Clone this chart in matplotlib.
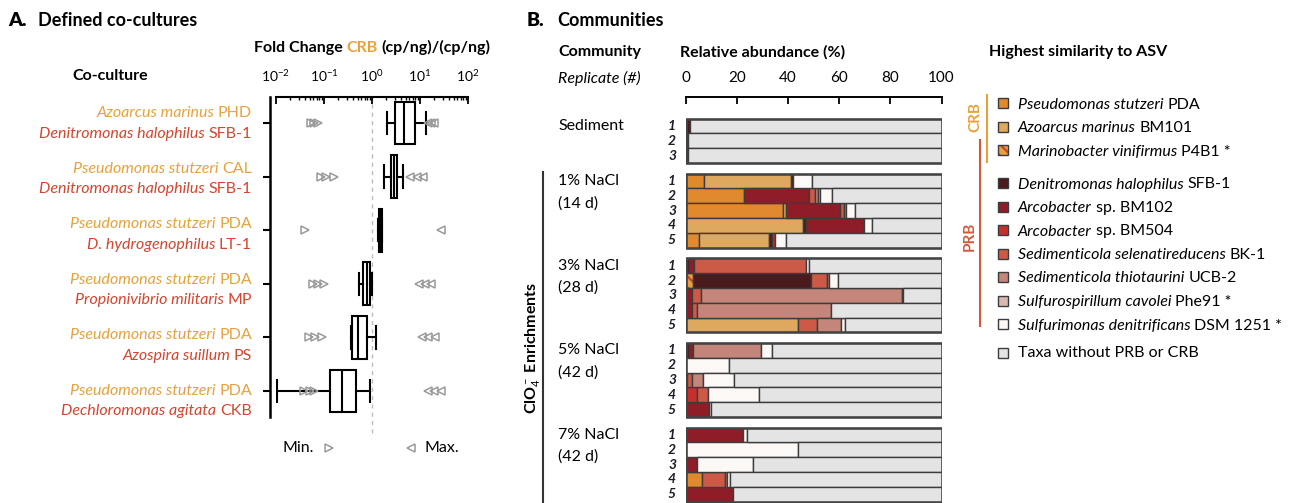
import matplotlib
matplotlib.use("Agg")
import matplotlib.pyplot as plt
import numpy as np
from matplotlib.patches import Rectangle

plt.rcParams['font.family'] = ['Lato', 'DejaVu Sans']
plt.rcParams['mathtext.fontset'] = 'custom'
plt.rcParams['mathtext.rm'] = 'Lato'
plt.rcParams['mathtext.it'] = 'Lato:italic'
plt.rcParams['mathtext.bf'] = 'Lato:bold'
plt.rcParams['hatch.linewidth'] = 1.6

# ---------------- Panel A data: fold change CRB (cp/ng)/(cp/ng)
crb_partner = [("Azoarcus marinus", "PHD"), ("Pseudomonas stutzeri", "CAL"),
               ("Pseudomonas stutzeri", "PDA"), ("Pseudomonas stutzeri", "PDA"),
               ("Pseudomonas stutzeri", "PDA"), ("Pseudomonas stutzeri", "PDA")]
prb_partner = [("Denitromonas halophilus", "SFB-1"), ("Denitromonas halophilus", "SFB-1"),
               ("D. hydrogenophilus", "LT-1"), ("Propionivibrio militaris", "MP"),
               ("Azospira suillum", "PS"), ("Dechloromonas agitata", "CKB")]
fc_whislo = [2.1, 1.8, 1.35, 0.54, 0.37, 0.0105]
fc_q1 = [3.0, 2.5, 1.38, 0.65, 0.39, 0.133]
fc_med = [4.7, 2.9, 1.5, 0.78, 0.51, 0.234]
fc_q3 = [7.9, 3.3, 1.6, 0.91, 0.78, 0.47]
fc_whishi = [13.3, 4.5, 1.65, 1.0, 1.2, 0.91]
fc_min = [[0.053, 0.063, 0.075], [0.085, 0.11, 0.16], [0.04],
          [0.058, 0.075, 0.1], [0.048, 0.065, 0.09], [0.038, 0.05, 0.062]]
fc_max = [[14.5, 17, 20], [6.3, 8.5, 11.5], [28],
          [9.5, 13, 17], [11, 15, 21], [15, 20, 27]]

# ---------------- Panel B data: relative abundance (%)
communities = [("Sediment", ""), ("1% NaCl", "(14 d)"), ("3% NaCl", "(28 d)"),
               ("5% NaCl", "(42 d)"), ("7% NaCl", "(42 d)")]
replicates = [3, 5, 5, 5, 5]

taxa = [("Pseudomonas stutzeri", "PDA"), ("Azoarcus marinus", "BM101"),
        ("Marinobacter vinifirmus", "P4B1 *"), ("Denitromonas halophilus", "SFB-1"),
        ("Arcobacter", "sp. BM102"), ("Arcobacter", "sp. BM504"),
        ("Sedimenticola selenatireducens", "BK-1"), ("Sedimenticola thiotaurini", "UCB-2"),
        ("Sulfurospirillum cavolei", "Phe91 *"), ("Sulfurimonas denitrificans", "DSM 1251 *")]
taxa_colors = ['#E0892F', '#DEA85E', '#E9A040', '#4B1A1D', '#8F1D27', '#C62F2B',
               '#CD5A46', '#C4857A', '#D9BAB3', '#FBF8F6']
other_color = '#E4E4E4'

#        sediment      1% NaCl                    3% NaCl                     5% NaCl                    7% NaCl
pda   = [0, 0, 0,    7.4, 22.8, 38.0, 0, 5.4,    0, 0, 0, 0, 0,              0, 0, 0, 0, 0,             0, 0, 0, 6.6, 0]
azo   = [0, 0, 0,    33.7, 0, 1.3, 46.0, 27.3,   0, 0, 0, 0, 44.1,           0, 0, 0, 0, 0,             0, 0, 0, 0, 0]
mari  = [0, 0, 0,    0, 0, 0, 0, 0,              0, 3.0, 0, 0, 0,            0, 0, 0, 0, 0,             0, 0, 0, 0, 0]
deni  = [1.7, 1.1, 0.8, 1.0, 0, 0, 0.9, 1.1,     1.4, 45.9, 0, 0, 0,         1.4, 0, 0.7, 0, 0,         0, 0, 0, 0, 0]
bm102 = [0, 0, 0,    0, 25.6, 21.1, 22.8, 0,     2.0, 0, 2.7, 2.7, 0,        1.4, 0, 0, 0, 9.2,         22.6, 0, 4.4, 0, 18.7]
bm504 = [0, 0, 0,    0, 0, 0, 0, 1.2,            0, 0, 0, 0, 0,              0, 0, 0, 4.4, 0,           0, 0, 0, 0, 0]
bk1   = [0, 0, 0,    0, 2.2, 1.5, 0, 0,          43.7, 6.3, 3.2, 1.7, 7.4,   0, 0, 1.7, 4.5, 0,         0, 0, 0, 8.8, 0]
ucb2  = [0, 0, 0,    0, 1.0, 0.6, 0, 0,          0, 1.0, 78.5, 52.4, 9.2,    26.6, 0, 4.3, 0, 0,        0, 0, 0, 0.9, 0]
phe91 = [0, 0, 0,    0, 1.0, 0, 0, 0,            0, 0, 0, 0, 0,              0, 0, 0, 0, 0,             0, 0, 0, 0, 0]
sulfu = [0, 0, 0,    7.2, 4.6, 3.7, 3.3, 4.1,    1.3, 3.2, 0.4, 0, 1.6,      4.3, 17.1, 12.2, 19.9, 0.8, 1.3, 44.1, 22.1, 1.0, 0]

ORANGE = '#E9A23B'
RED = '#D5452F'

W, H = 1295, 503
fig = plt.figure(figsize=(W / 100, H / 100), dpi=100)

# overlay axes in pixel units for text and decorations
ov = fig.add_axes([0, 0, 1, 1])
ov.set_xlim(0, W)
ov.set_ylim(H, 0)
ov.axis('off')


def rich(x, y, parts, ha='left', size=11.5, **common):
    # place several differently styled pieces on one baseline
    r = fig.canvas.get_renderer()
    objs = []
    for s, kw in parts:
        opts = dict(common)
        opts.update(kw)
        t = ov.text(0, y, s, fontsize=size, ha='left', va='baseline', **opts)
        objs.append((t, t.get_window_extent(r).width))
    gap = size * 0.33
    total = sum(w for _, w in objs) + gap * (len(objs) - 1)
    x0 = x - total if ha == 'right' else (x - total / 2 if ha == 'center' else x)
    for t, w in objs:
        t.set_x(x0)
        x0 += w + gap


def to_px(axes, xv, yv):
    dx, dy = axes.transData.transform((xv, yv))
    return dx, H - dy


# ---------------- Panel A
ax = fig.add_axes([276 / W, 1 - 417 / H, 192 / W, 320 / H])
ax.set_facecolor('none')
stats = [dict(whislo=fc_whislo[i], q1=fc_q1[i], med=fc_med[i], q3=fc_q3[i],
              whishi=fc_whishi[i], fliers=[]) for i in range(len(fc_med))]
ax.bxp(stats, positions=range(len(stats)), orientation='horizontal', widths=0.8,
       capwidths=0.42, patch_artist=True, showfliers=False, manage_ticks=False,
       boxprops=dict(facecolor='white', edgecolor='black', linewidth=1.5),
       whiskerprops=dict(color='black', linewidth=1.5),
       capprops=dict(color='black', linewidth=1.5),
       medianprops=dict(color='black', linewidth=1.5))
for i in range(len(fc_min)):
    ax.plot(fc_min[i], [i] * len(fc_min[i]), ls='none', marker='>', ms=6,
            mfc='none', mec='#9a9a9a', mew=1.1)
    ax.plot(fc_max[i], [i] * len(fc_max[i]), ls='none', marker='<', ms=6,
            mfc='none', mec='#9a9a9a', mew=1.1)
ax.axvline(1, ymin=-0.05, ymax=1, ls=(0, (3, 3)), color='#bdbdbd', lw=1, clip_on=False, zorder=0)
ax.set_xscale('log')
ax.set_xlim(1e-2, 1e2)
ax.set_ylim(len(stats) - 0.515, -0.485)
ax.xaxis.tick_top()
ax.tick_params(axis='x', which='major', direction='in', length=5, width=1.3,
               labelsize=10, pad=9, top=True, bottom=False)
ax.tick_params(axis='x', which='minor', direction='in', length=2.5, width=1, top=True, bottom=False)
ax.set_yticks(range(len(stats)))
ax.set_yticklabels([])
ax.tick_params(axis='y', direction='out', length=5, width=1.5)
for s in ['right', 'bottom']:
    ax.spines[s].set_visible(False)
ax.spines['top'].set_linewidth(1.5)
ax.spines['left'].set_linewidth(1.8)
ax.spines['left'].set_position(('outward', 4))

for i in range(len(stats)):
    _, yc = to_px(ax, 1, i)
    y1 = yc - 11 + 1.8 * i
    sp, st = crb_partner[i]
    rich(252, y1 + 5.5, [(sp, dict(style='italic')), (st, {})], ha='right', color=ORANGE)
    sp, st = prb_partner[i]
    rich(252, y1 + 26, [(sp, dict(style='italic')), (st, {})], ha='right', color=RED)

ov.text(8, 20, "A.", fontsize=14, fontweight='heavy', va='center')
ov.text(38, 20, "Defined co-cultures", fontsize=13, fontweight='bold', va='center')
rich(372, 52, [("Fold Change", {}), ("CRB", dict(color=ORANGE)), ("(cp/ng)/(cp/ng)", {})],
     ha='center', fontweight='bold')
ov.text(110, 76, "Co-culture", fontsize=11.5, fontweight='bold', ha='center', va='center')
ov.text(283, 448, "Min.", fontsize=11.5, va='center')
ov.plot([329], [448], marker='>', ms=6, mfc='none', mec='#9a9a9a', mew=1.1)
ov.plot([411], [448], marker='<', ms=6, mfc='none', mec='#9a9a9a', mew=1.1)
ov.text(425, 448, "Max.", fontsize=11.5, va='center')

# ---------------- Panel B
series = [pda, azo, mari, deni, bm102, bm504, bk1, ucb2, phe91, sulfu]
gap = 0.72
ypos = []
start = 0.0
for n in replicates:
    ypos += [start + k for k in range(n)]
    start += n + gap
ypos = np.array(ypos)

bx = fig.add_axes([685.5 / W, 0, 256 / W, (H - 97) / H])
bx.set_facecolor('none')
bx.set_xlim(0, 100)
bx.set_ylim((H - 126) / 14.8, -(126 - 97) / 14.8)

left = np.zeros(len(ypos))
for vals, col in zip(series + [None], taxa_colors + [other_color]):
    v = np.array(vals, float) if vals is not None else 100 - left
    m = v > 0
    if col == taxa_colors[2]:
        bx.barh(ypos[m], v[m], left=left[m], height=1.0, color=col,
                edgecolor='#C9452E', hatch='\\\\\\', linewidth=0)
        bx.barh(ypos[m], v[m], left=left[m], height=1.0, fill=False,
                edgecolor='#3c3c3c', linewidth=1)
    else:
        bx.barh(ypos[m], v[m], left=left[m], height=1.0, color=col,
                edgecolor='#3c3c3c', linewidth=1)
    left += v

k = 0
for (name, days), n in zip(communities, replicates):
    bx.add_patch(Rectangle((0, ypos[k] - 0.5), 100, n, fill=False,
                           edgecolor='#444444', linewidth=1.8, zorder=5))
    _, y1 = to_px(bx, 0, ypos[k])
    ov.text(558, y1, name, fontsize=11.5, va='center')
    if days:
        ov.text(558, y1 + 22, days, fontsize=11.5, va='center')
    for r in range(n):
        _, yr = to_px(bx, 0, ypos[k + r])
        ov.text(676, yr, str(r + 1), fontsize=10, style='italic', fontweight='bold',
                ha='right', va='center', color='#1c1c2a')
    k += n

bx.xaxis.tick_top()
bx.set_xticks([0, 20, 40, 60, 80, 100])
bx.tick_params(axis='x', direction='in', length=5, width=1.3, labelsize=11, pad=9)
bx.set_yticks([])
for s in ['left', 'right', 'bottom']:
    bx.spines[s].set_visible(False)
bx.spines['top'].set_linewidth(1.4)

_, ytop = to_px(bx, 0, ypos[replicates[0]] - 0.5)
ov.plot([543, 543], [ytop - 2, H], color='#333333', lw=1.5)
ov.text(532, 348, r"ClO$_4^-$ Enrichments", fontsize=11.5, fontweight='bold',
        rotation=90, ha='center', va='center')

ov.text(527, 20, "B.", fontsize=14, fontweight='heavy', va='center')
ov.text(557, 20, "Communities", fontsize=13, fontweight='bold', va='center')
ov.text(558, 52, "Community", fontsize=11.5, fontweight='bold', va='center')
ov.text(558, 78, "Replicate (#)", fontsize=11.5, style='italic', va='center')
ov.text(680, 52, "Relative abundance (%)", fontsize=11.5, fontweight='bold', va='center')

# ---------------- Legend
ov.text(989, 52, "Highest similarity to ASV", fontsize=11.5, fontweight='bold', va='center')
leg_y = [103 + 23.5 * i for i in range(3)] + [183 + 23.5 * i for i in range(7)]
for (sp, st), col, yl in zip(taxa, taxa_colors, leg_y):
    if col == taxa_colors[2]:
        ov.add_patch(Rectangle((998, yl - 5), 10, 10, facecolor=col, edgecolor='#C9452E',
                               hatch='\\\\\\', linewidth=0))
        ov.add_patch(Rectangle((998, yl - 5), 10, 10, fill=False, edgecolor='#3c3c3c', linewidth=1))
    else:
        ov.add_patch(Rectangle((998, yl - 5), 10, 10, facecolor=col, edgecolor='#3c3c3c', linewidth=1))
    rich(1018, yl + 5.5, [(sp, dict(style='italic')), (st, {})])
ov.add_patch(Rectangle((998, 348), 10, 10, facecolor=other_color, edgecolor='#3c3c3c', linewidth=1))
ov.text(1018, 353, "Taxa without PRB or CRB", fontsize=11.5, va='center')

ov.plot([987, 987], [95, 162], color=ORANGE, lw=1.5)
ov.text(975, 117, "CRB", fontsize=11, fontweight='bold', color=ORANGE, rotation=90,
        ha='center', va='center')
ov.plot([980, 980], [140, 326], color='#D8573A', lw=1.5)
ov.text(970, 236, "PRB", fontsize=11, fontweight='bold', color='#D8573A', rotation=90,
        ha='center', va='center')

fig.savefig("out.png", dpi=100)
